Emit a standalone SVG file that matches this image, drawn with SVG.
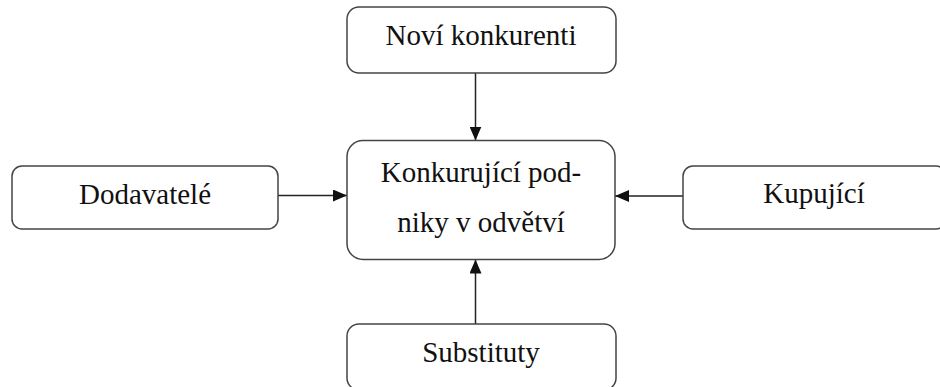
<svg xmlns="http://www.w3.org/2000/svg" width="940" height="387" viewBox="0 0 940 387">
<defs>
<style>
.box{fill:#fff;stroke:#444;stroke-width:1.5}
.lbl{font-family:"Liberation Serif","Times New Roman",serif;font-size:29px;fill:#111;text-anchor:middle}
.conn{stroke:#222;stroke-width:1.5;fill:none;marker-end:url(#ah)}
</style>
<marker id="ah" markerUnits="userSpaceOnUse" markerWidth="14" markerHeight="12" refX="14" refY="6" orient="auto">
<path d="M0,0 L14,6 L0,12 z" fill="#111"/>
</marker>
</defs>
<rect width="940" height="387" fill="#fff"/>
<g id="connectors">
<line class="conn" x1="475.5" y1="73" x2="475.5" y2="140.5"/>
<line class="conn" x1="278" y1="195.5" x2="347" y2="195.5"/>
<line class="conn" x1="683" y1="196" x2="615" y2="196"/>
<line class="conn" x1="475.5" y1="324" x2="475.5" y2="259.5"/>
</g>
<g id="novi">
<rect class="box" x="347" y="7" width="269" height="66" rx="12"/>
<text class="lbl" x="481" y="45">Noví konkurenti</text>
</g>
<g id="konkurujici">
<rect class="box" x="347" y="140.5" width="268" height="119" rx="16"/>
<text class="lbl" x="481" y="182">Konkurující pod-</text>
<text class="lbl" x="481" y="232">niky v odvětví</text>
</g>
<g id="dodavatele">
<rect class="box" x="12" y="166" width="266" height="63" rx="10"/>
<text class="lbl" x="145" y="204">Dodavatelé</text>
</g>
<g id="kupujici">
<rect class="box" x="683" y="166" width="263" height="63" rx="10"/>
<text class="lbl" x="814" y="203">Kupující</text>
</g>
<g id="substituty">
<rect class="box" x="347" y="324" width="269" height="66" rx="12"/>
<text class="lbl" x="481" y="362">Substituty</text>
</g>
</svg>
